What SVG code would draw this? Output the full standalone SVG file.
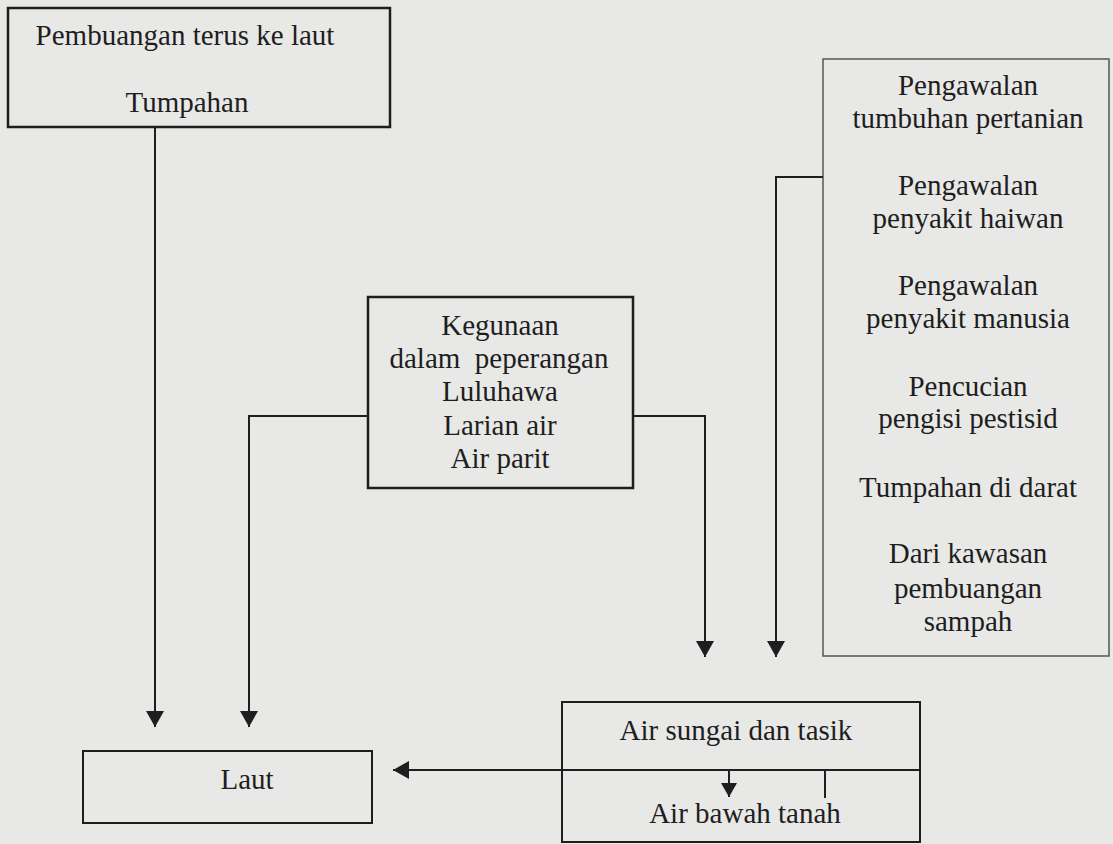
<svg xmlns="http://www.w3.org/2000/svg" width="1113" height="844" viewBox="0 0 1113 844">
<defs>
<marker id="ah" markerUnits="userSpaceOnUse" markerWidth="20" markerHeight="20" refX="16" refY="9" orient="auto">
<path d="M0,0 L16,9 L0,18 Z" fill="#1e1e1e"/>
</marker>
<marker id="ahs" markerUnits="userSpaceOnUse" markerWidth="16" markerHeight="16" refX="14" refY="8" orient="auto">
<path d="M0,0 L14,8 L0,16 Z" fill="#1e1e1e"/>
</marker>
<style>
text{font-family:'Liberation Serif','Times New Roman',serif;font-size:29px;fill:#1e1e1e;text-anchor:middle;white-space:pre}
.box{fill:none;stroke:#1e1e1e;stroke-width:2.5}
.thin{fill:none;stroke:#555;stroke-width:1.5}
.con{fill:none;stroke:#1e1e1e;stroke-width:2}
</style>
</defs>
<rect width="1113" height="844" fill="#e8e8e6"/>
<g id="pembuangan">
<rect class="box" x="8" y="8" width="382" height="119"/>
<text x="185" y="45">Pembuangan terus ke laut</text>
<text x="187" y="112">Tumpahan</text>
</g>
<g id="pengawalan">
<rect class="thin" x="823" y="59" width="286" height="597"/>
<text x="968" y="95">Pengawalan</text>
<text x="968" y="128">tumbuhan pertanian</text>
<text x="968" y="195">Pengawalan</text>
<text x="968" y="228">penyakit haiwan</text>
<text x="968" y="295">Pengawalan</text>
<text x="968" y="328">penyakit manusia</text>
<text x="968" y="396">Pencucian</text>
<text x="968" y="428">pengisi pestisid</text>
<text x="968" y="497">Tumpahan di darat</text>
<text x="968" y="563">Dari kawasan</text>
<text x="968" y="598">pembuangan</text>
<text x="968" y="631">sampah</text>
</g>
<g id="kegunaan">
<rect class="box" x="368" y="297" width="265" height="191"/>
<text x="500" y="335">Kegunaan</text>
<text x="499" y="368">dalam  peperangan</text>
<text x="500" y="401">Luluhawa</text>
<text x="500" y="435">Larian air</text>
<text x="500" y="468">Air parit</text>
</g>
<g id="laut">
<rect class="con" x="83" y="751" width="289" height="72"/>
<text x="247" y="789">Laut</text>
</g>
<g id="air-sungai">
<rect class="con" x="562" y="702" width="358" height="140"/>
<line class="con" x1="562" y1="770" x2="920" y2="770"/>
<text x="736" y="740">Air sungai dan tasik</text>
<text x="745" y="823">Air bawah tanah</text>
</g>
<g id="connectors">
<path class="con" d="M155,127 V727" marker-end="url(#ah)"/>
<path class="con" d="M368,416 H249 V727" marker-end="url(#ah)"/>
<path class="con" d="M633,416 H705 V657" marker-end="url(#ah)"/>
<path class="con" d="M823,177 H776 V657" marker-end="url(#ah)"/>
<path class="con" d="M562,770 H393" marker-end="url(#ah)"/>
<path class="con" d="M729,770 V797" marker-end="url(#ahs)"/>
<path class="con" d="M825,770 V798"/>
</g>
</svg>
